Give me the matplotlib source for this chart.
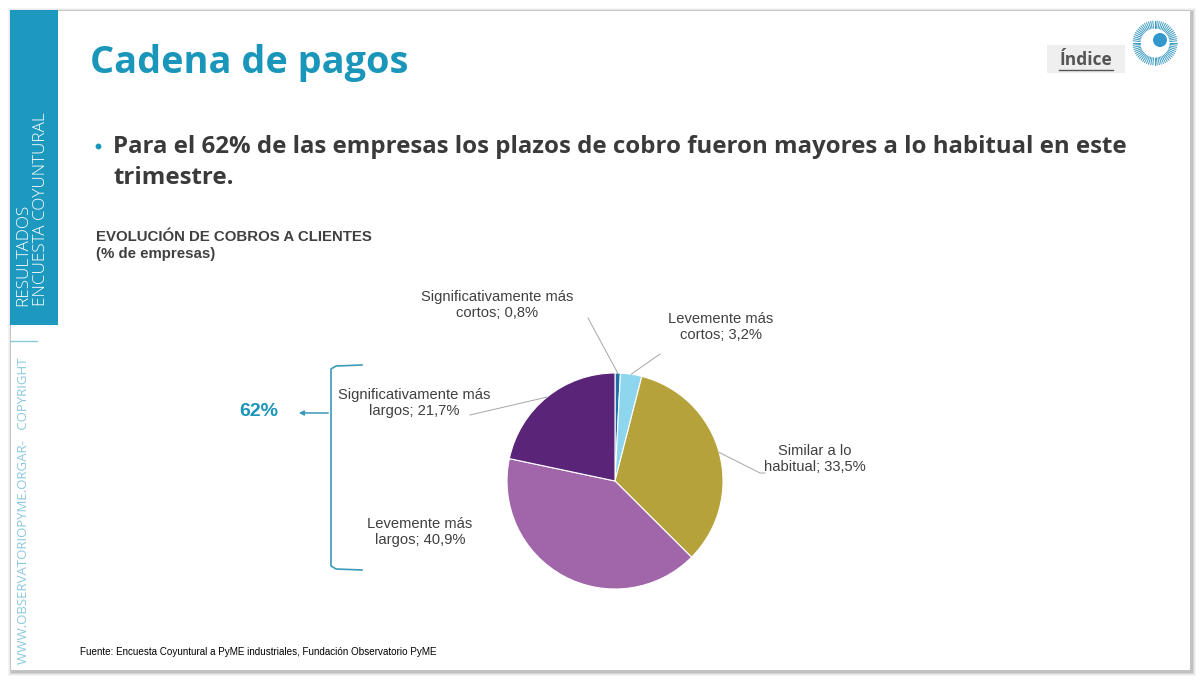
import matplotlib
matplotlib.use("Agg")
import matplotlib.pyplot as plt
import numpy as np
from matplotlib.patches import Rectangle, Circle

# data
categories = ["Significativamente más cortos", "Levemente más cortos",
              "Similar a lo habitual", "Levemente más largos",
              "Significativamente más largos"]
label_text = ["Significativamente más\ncortos; 0,8%", "Levemente más\ncortos; 3,2%",
              "Similar a lo\nhabitual; 33,5%", "Levemente más\nlargos; 40,9%",
              "Significativamente más\nlargos; 21,7%"]
values = [0.8, 3.2, 33.5, 40.9, 21.7]
colors = ["#1F6FA8", "#8ED6EE", "#B6A23A", "#A066A9", "#5A2479"]
total_longer = "62%"

TEAL = "#1A96BA"
GREY = "#404040"
W, H = 1200, 680

fig = plt.figure(figsize=(12, 6.8), dpi=100)
bg = fig.add_axes([0, 0, 1, 1])
bg.set_xlim(0, W)
bg.set_ylim(H, 0)
bg.axis("off")

# slide frame + shadow
for i, a in enumerate([0.05, 0.08, 0.12, 0.18]):
    off = 4 - i
    bg.add_patch(Rectangle((10 - off + 2, 10 - off + 2), 1180 + 2 * off, 660 + 2 * off,
                           color="0.35", alpha=a, lw=0, zorder=0))
bg.add_patch(Rectangle((10, 10), 1180, 660, facecolor="white", edgecolor="0.75",
                       lw=0.6, zorder=1))

# left sidebar
bg.add_patch(Rectangle((10, 10), 48, 315, color="#1D98BE", lw=0, zorder=2))
bg.text(23, 306, "RESULTADOS", rotation=90, ha="center", va="bottom",
        color="white", fontsize=12.3, family="Open Sans", fontweight="light", zorder=3)
bg.text(41, 306, "ENCUESTA COYUNTURAL", rotation=90, ha="center", va="bottom",
        color="white", fontsize=12.3, family="Open Sans", fontweight="light", zorder=3)
bg.plot([10, 37], [341, 341], color="#8CC8DC", lw=1, zorder=3)
bg.text(24, 664, "WWW.OBSERVATORIOPYME.ORGAR-   COPYRIGHT", rotation=90,
        ha="center", va="bottom", color="#8CC8DC", fontsize=9.5,
        family="Open Sans", zorder=3)

# title and bullet
bg.text(90, 63, "Cadena de pagos", color=TEAL, fontsize=27.3, fontweight="bold",
        family="Open Sans", va="center", ha="left", zorder=3)
bg.plot([98], [146], "o", color=TEAL, ms=3.2, zorder=3)
bg.text(113, 147, "Para el 62% de las empresas los plazos de cobro fueron mayores a lo habitual en este",
        color="#3A3A3A", fontsize=17.3, fontweight="bold", family="Open Sans",
        va="center", ha="left", zorder=3)
bg.text(113, 178, "trimestre.", color="#3A3A3A", fontsize=17.3, fontweight="bold",
        family="Open Sans", va="center", ha="left", zorder=3)

# Indice button and logo
bg.add_patch(Rectangle((1047, 45), 78, 28, color="#EFEFEF", lw=0, zorder=2))
bg.text(1086, 60, "Índice", color="#555555", fontsize=12.5, fontweight="bold",
        family="Open Sans", ha="center", va="center", zorder=3)
bg.plot([1059, 1113], [69.5, 69.5], color="#555555", lw=1, zorder=3)
cx, cy = 1155, 43
for t in np.linspace(0, 2 * np.pi, 64, endpoint=False):
    bg.plot([cx + 15 * np.cos(t), cx + 22 * np.cos(t)],
            [cy + 15 * np.sin(t), cy + 22 * np.sin(t)], color="#3A9AC0", lw=0.7, zorder=3)
bg.add_patch(Circle((1160, 40), 7, color="#3399CC", lw=0, zorder=3))

# chart heading
bg.text(96, 237, "EVOLUCIÓN DE COBROS A CLIENTES", color=GREY, fontsize=10.8,
        fontweight="bold", family="Liberation Sans", va="center", zorder=3)
bg.text(96, 254, "(% de empresas)", color=GREY, fontsize=10.8,
        fontweight="bold", family="Liberation Sans", va="center", zorder=3)

# bracket + 62%
bx, bbot, bend = 331, 570, 362
bg.plot([bend, bx + 5, bx, bx, bx + 5, bend],
        [365, 366, 369, bbot - 4, bbot - 1, bbot], color="#3A9AB8", lw=1.2, zorder=3)
bg.annotate("", xy=(296, 413), xytext=(bx, 413),
            arrowprops=dict(arrowstyle="-|>", color="#3A9AB8", lw=1.1,
                            mutation_scale=7), zorder=3)
bg.text(259, 412, total_longer, color=TEAL, fontsize=14, fontweight="bold",
        family="Liberation Sans", ha="center", va="center", zorder=3)

# footer
bg.text(80, 652, "Fuente: Encuesta Coyuntural a PyME industriales, Fundación Observatorio PyME",
        color="black", fontsize=7.1, family="Liberation Sans", va="center", zorder=3)

# pie
pcx, pcy, pr = 615, 481, 108
ax = fig.add_axes([(pcx - pr) / W, (H - pcy - pr) / H, 2 * pr / W, 2 * pr / H])
wedges, _ = ax.pie(values, colors=colors, startangle=90, counterclock=False,
                   wedgeprops=dict(linewidth=0.8, edgecolor="white"))
ax.set_xlim(-1, 1)
ax.set_ylim(-1, 1)
ax.set_aspect("equal")
ax.axis("off")


def px(x, y):
    return ((x - pcx) / pr, (pcy - y) / pr)


# label centres (px) and leader end points (px, None = no leader)
label_pos = [(497, 305), (721, 327), (815, 459), (420, 532), (414, 403)]
leader_end = [(588, 318), (660, 354), (760, 473), None, (470, 415)]
for w, txt, lp, le in zip(wedges, label_text, label_pos, leader_end):
    ang = np.deg2rad((w.theta1 + w.theta2) / 2)
    x0, y0 = np.cos(ang), np.sin(ang)
    tx, ty = px(*lp)
    ax.text(tx, ty, txt, ha="center", va="center", fontsize=10.6,
            family="Liberation Sans", color=GREY, clip_on=False, linespacing=1.15)
    if le is not None:
        ex, ey = px(*le)
        xs, ys = [x0, ex], [y0, ey]
        if le[0] > pcx + pr:
            xs.append(ex + 5 / pr)
            ys.append(ey)
        ax.plot(xs, ys, color="#A6A6A6", lw=0.7, clip_on=False)

fig.savefig("out.png", dpi=100)
